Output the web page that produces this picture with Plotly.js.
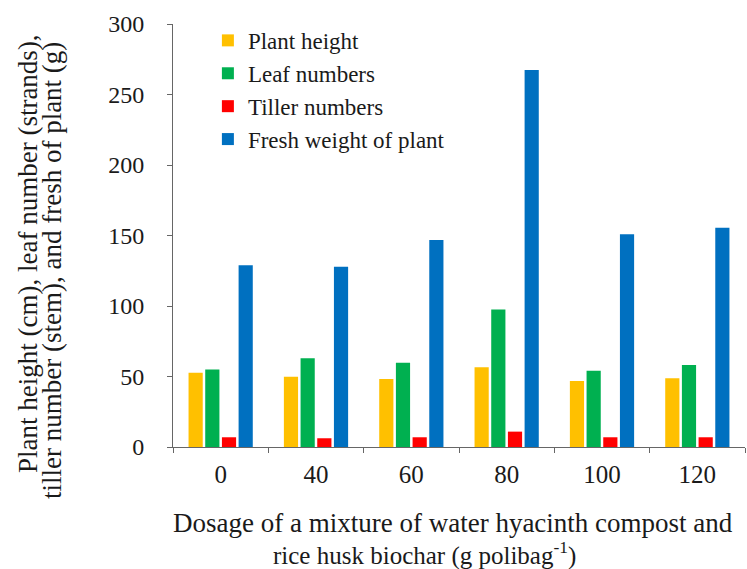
<!DOCTYPE html>
<html>
<head>
<meta charset="utf-8">
<script src="https://cdn.plot.ly/plotly-3.0.1.min.js"></script>
<style>html,body{margin:0;padding:0;background:#fff;}#chart{width:747px;height:569px;}</style>
</head>
<body>
<div id="chart"></div>
<script>
const categories = ["0", "40", "60", "80", "100", "120"];
const seriesNames = ["Plant height", "Leaf numbers", "Tiller numbers", "Fresh weight of plant"];
const plantHeight = [52.7, 49.9, 48.2, 56.5, 46.8, 48.7];
const leafNumbers = [55.0, 62.9, 59.8, 97.6, 54.1, 58.2];
const tillerNumbers = [6.9, 6.2, 6.9, 10.9, 6.9, 6.9];
const freshWeight = [128.9, 127.9, 146.8, 267.4, 150.8, 155.5];
const yTicks = [0, 50, 100, 150, 200, 250, 300];
const colors = ["#FFC000", "#00B050", "#FF0000", "#0070C0"];

const FONT = "Liberation Serif";
const seriesValues = [plantHeight, leafNumbers, tillerNumbers, freshWeight];

const traces = seriesValues.map((vals, i) => ({
  type: "bar",
  name: seriesNames[i],
  x: categories,
  y: vals,
  legendgroup: "g" + i,
  marker: {color: colors[i], line: {width: 0}},
  hoverinfo: "x+y+name"
}));

const layout = {
  width: 747,
  height: 569,
  margin: {l: 173, r: 2, t: 24, b: 122, pad: 0},
  paper_bgcolor: "#ffffff",
  plot_bgcolor: "#ffffff",
  font: {family: FONT, color: "#1a1a1a", size: 24},
  barmode: "group",
  bargap: 0.30,
  bargroupgap: 0.15,
  showlegend: true,
  legend: {
    x: 0.061, xanchor: "left",
    y: 1.012, yanchor: "top",
    font: {family: FONT, size: 23, color: "#1a1a1a"},
    bgcolor: "rgba(0,0,0,0)",
    tracegroupgap: 0,
    traceorder: "normal"
  },
  xaxis: {
    type: "category",
    tickvals: categories,
    ticktext: categories,
    showline: true,
    linecolor: "#666666",
    linewidth: 1,
    ticks: "outside",
    tickson: "boundaries",
    ticklen: 5,
    tickcolor: "#666666",
    showgrid: false,
    zeroline: false,
    tickfont: {family: FONT, size: 25, color: "#1a1a1a"},
    ticklabelstandoff: 5,
    automargin: false
  },
  yaxis: {
    range: [0, 300],
    tickvals: yTicks,
    ticktext: yTicks.map(String),
    showline: true,
    linecolor: "#666666",
    linewidth: 1,
    ticks: "outside",
    ticklen: 5,
    tickcolor: "#666666",
    showgrid: false,
    zeroline: false,
    tickfont: {family: FONT, size: 24, color: "#1a1a1a"},
    ticklabelstandoff: 18,
    automargin: false
  },
  annotations: [
    {
      text: "Plant height (cm), leaf number (strands),",
      xref: "paper", yref: "paper",
      x: (28 - 173) / 572, y: (447 - 254) / 423,
      xanchor: "center", yanchor: "middle",
      textangle: -90, showarrow: false,
      font: {family: FONT, size: 27, color: "#1a1a1a"}
    },
    {
      text: "tiller number (stem), and fresh of plant (g)",
      xref: "paper", yref: "paper",
      x: (52 - 173) / 572, y: (447 - 271) / 423,
      xanchor: "center", yanchor: "middle",
      textangle: -90, showarrow: false,
      font: {family: FONT, size: 27, color: "#1a1a1a"}
    },
    {
      text: "Dosage of a mixture of water hyacinth compost and",
      xref: "paper", yref: "paper",
      x: (453 - 173) / 572, y: (447 - 523) / 423,
      xanchor: "center", yanchor: "middle",
      showarrow: false,
      font: {family: FONT, size: 27, color: "#1a1a1a"}
    },
    {
      text: "rice husk biochar (g polibag<sup>-1</sup>)",
      xref: "paper", yref: "paper",
      x: (424 - 173) / 572, y: (447 - 553) / 423,
      xanchor: "center", yanchor: "middle",
      showarrow: false,
      font: {family: FONT, size: 25, color: "#1a1a1a"}
    }
  ]
};

Plotly.newPlot("chart", traces, layout, {displayModeBar: false, staticPlot: true});
</script>
</body>
</html>
